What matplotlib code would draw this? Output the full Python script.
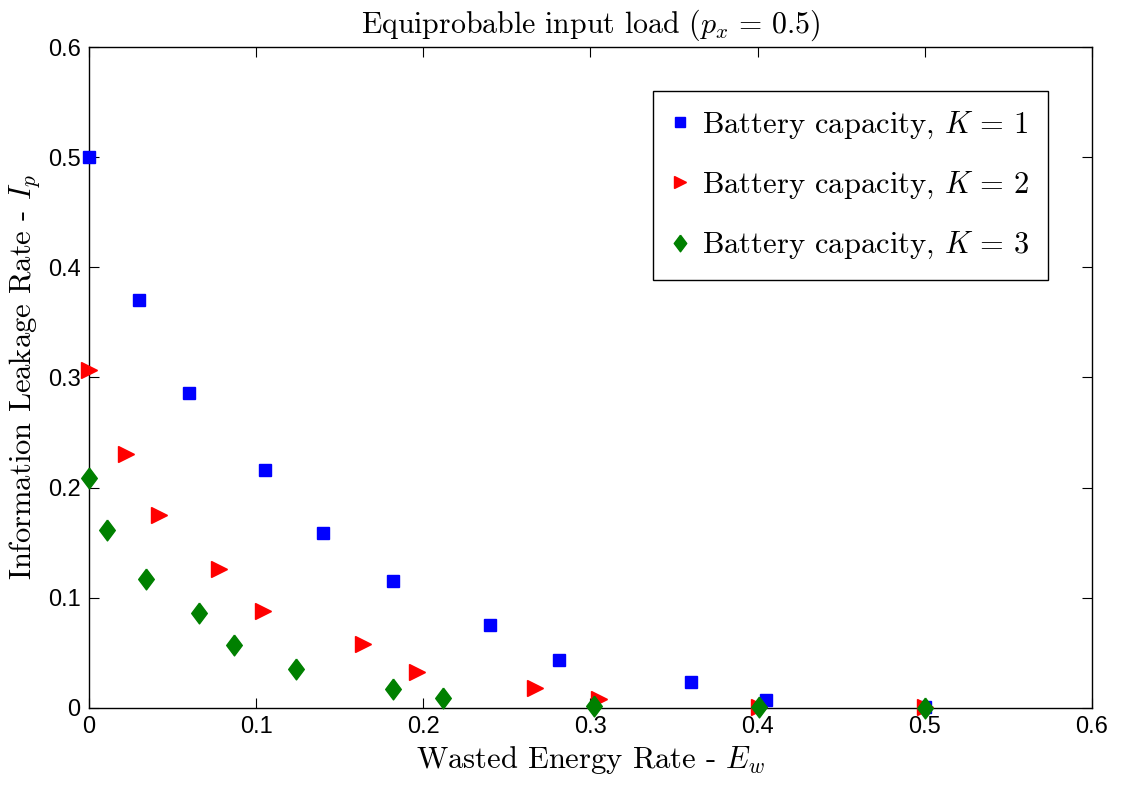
import numpy as np
import matplotlib
matplotlib.use("Agg")
import matplotlib.pyplot as plt
from matplotlib.ticker import FuncFormatter

# =========================================
# DATOS
# =========================================

k1_x = [0.0, 0.030, 0.060, 0.105, 0.140, 0.182, 0.240, 0.281, 0.360, 0.405, 0.500]
k1_y = [0.500, 0.370, 0.286, 0.216, 0.159, 0.115, 0.075, 0.044, 0.024, 0.007, 0.0005]

k2_x = [0.0, 0.022, 0.042, 0.078, 0.104, 0.164, 0.196, 0.267, 0.305, 0.401, 0.500]
k2_y = [0.307, 0.231, 0.175, 0.126, 0.088, 0.058, 0.033, 0.018, 0.008, 0.001, 0.0005]

k3_x = [0.0, 0.011, 0.034, 0.066, 0.087, 0.124, 0.182, 0.212, 0.302, 0.401, 0.500]
k3_y = [0.209, 0.162, 0.117, 0.086, 0.057, 0.035, 0.017, 0.009, 0.002, 0.001, 0.0]

labels = [r"Battery capacity, $K\,=\,1$",
          r"Battery capacity, $K\,=\,2$",
          r"Battery capacity, $K\,=\,3$"]

ticks = [0, 0.1, 0.2, 0.3, 0.4, 0.5, 0.6]

# =========================================
# GRAFICO
# =========================================

plt.rcParams["mathtext.fontset"] = "cm"
plt.rcParams["axes.unicode_minus"] = False

# rombo algo mas ancho que el 'd' de matplotlib (como en MATLAB)
rombo = [(0, 1), (0.75, 0), (0, -1), (-0.75, 0), (0, 1)]

fig = plt.figure(figsize=(11.24, 7.89), dpi=100)
ax = fig.add_axes([0.0792, 0.1027, 0.8923, 0.8377])

ax.plot(k1_x, k1_y, "s", color="#0000ff", ms=8.5, mec="#0000ff",
        label=labels[0], clip_on=False, zorder=3)
ax.plot(k2_x, k2_y, ">", color="#ff0000", ms=11, mec="#ff0000",
        label=labels[1], clip_on=False, zorder=3)
ax.plot(k3_x, k3_y, marker=rombo, ls="none", color="#008000", ms=15,
        mec="#008000", label=labels[2], clip_on=False, zorder=3)

ax.set_xlim(0, 0.6)
ax.set_ylim(0, 0.6)
ax.set_xticks(ticks)
ax.set_yticks(ticks)
fmt = FuncFormatter(lambda v, p: "%g" % round(v, 2))
ax.xaxis.set_major_formatter(fmt)
ax.yaxis.set_major_formatter(fmt)

ax.tick_params(direction="in", length=7, width=0.8, top=True, right=True,
               labelsize=17, pad=6)
for t in ax.get_xticklabels() + ax.get_yticklabels():
    t.set_fontfamily("Liberation Sans")
for s in ax.spines.values():
    s.set_linewidth(1.0)

ax.set_title(r"Equiprobable input load ($p_x\,=\,0.5$)",
             fontfamily="cmr10", fontsize=21.5, pad=10)
ax.set_xlabel(r"Wasted Energy Rate - $E_w$", fontfamily="cmr10", fontsize=22, labelpad=4)
ax.set_ylabel(r"Information Leakage Rate - $I_p$", fontfamily="cmr10", fontsize=22, labelpad=4)

leg = ax.legend(loc="upper right", bbox_to_anchor=(0.956, 0.933),
                numpoints=1, markerscale=0.8, fancybox=False, framealpha=1,
                edgecolor="black", prop={"family": "cmr10", "size": 22},
                labelspacing=0.95, handlelength=0.6, handletextpad=0.42,
                borderpad=0.6, borderaxespad=0)
leg.get_frame().set_linewidth(1.0)

plt.savefig("out.png", dpi=100)
